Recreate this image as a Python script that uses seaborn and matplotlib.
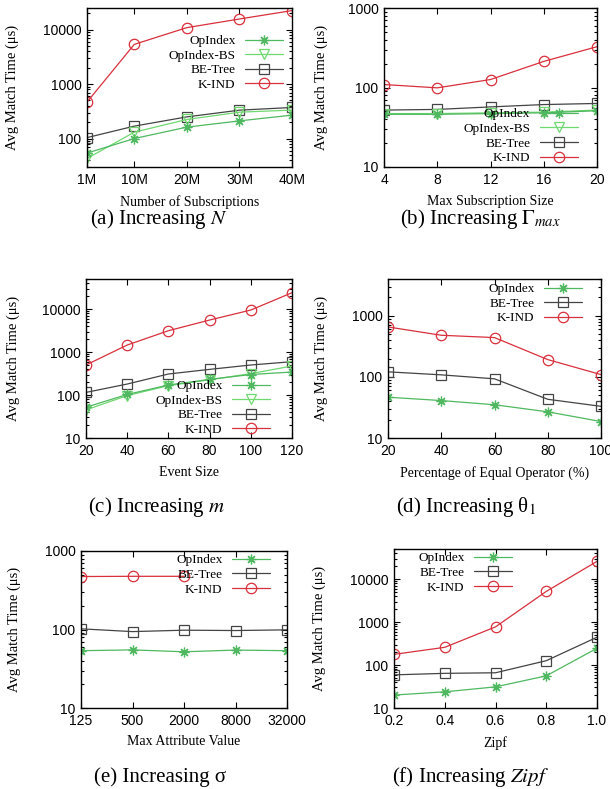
import matplotlib
matplotlib.use('Agg')
import matplotlib.pyplot as plt
import seaborn as sns
from matplotlib.ticker import LogLocator, NullFormatter, NullLocator

# ---- data ----
series_names = ['OpIndex', 'OpIndex-BS', 'BE-Tree', 'K-IND']

# (a) number of subscriptions
a_x = [1, 10, 20, 30, 40]
a_xlabels = ['1M', '10M', '20M', '30M', '40M']
a_opindex = [54, 100, 162, 211, 269]
a_opindex_bs = [43, 131, 224, 305, 333]
a_betree = [104, 169, 250, 332, 372]
a_kind = [467, 5370, 10900, 15700, 22400]

# (b) max subscription size
b_x = [4, 8, 12, 16, 20]
b_opindex = [46, 46, 47, 48, 51]
b_opindex_bs = [47, 47, 48, 49, 52]
b_betree = [52, 53, 57, 61, 63]
b_kind = [109, 99, 126, 213, 326]

# (c) event size
c_x = [20, 40, 60, 80, 100, 120]
c_opindex = [52, 103, 171, 231, 300, 343]
c_opindex_bs = [45, 97, 165, 226, 315, 472]
c_betree = [115, 180, 308, 395, 499, 596]
c_kind = [499, 1455, 3134, 5550, 9480, 24000]

# (d) percentage of equal operator
d_x = [20, 40, 60, 80, 100]
d_opindex = [46.5, 41, 35, 26.8, 18.6]
d_betree = [121, 108, 93, 43, 33]
d_kind = [657, 480, 440, 192, 109]

# (e) max attribute value (only first three K-IND runs finished)
e_labels = ['125', '500', '2000', '8000', '32000']
e_opindex = [53.7, 55, 52, 54.7, 53.7]
e_betree = [102, 94, 98, 97, 99]
e_kind = [473, 476, 476]

# (f) zipf
f_x = [0.2, 0.4, 0.6, 0.8, 1.0]
f_xlabels = ['0.2', '0.4', '0.6', '0.8', '1.0']
f_opindex = [20, 23.8, 31, 56, 245]
f_betree = [59, 64, 66, 126, 443]
f_kind = [177, 258, 771, 5150, 25800]

# ---- styling ----
sns.set_style('ticks')
plt.rcParams['font.family'] = ['Liberation Sans', 'DejaVu Sans']
plt.rcParams['mathtext.fontset'] = 'stix'
for k in ['text.color', 'axes.labelcolor', 'xtick.color', 'ytick.color']:
    plt.rcParams[k] = 'black'

SERIF = ['Liberation Serif', 'DejaVu Serif']
styles = {
    'OpIndex':    dict(color='#4fb860', marker=(8, 2, 0), ms=7),
    'OpIndex-BS': dict(color='#6fd86f', marker='v', ms=7),
    'BE-Tree':    dict(color='#444444', marker='s', ms=7),
    'K-IND':      dict(color='#d8303c', marker='o', ms=7.5),
}

W, H = 610, 789
fig = plt.figure(figsize=(W / 100, H / 100), dpi=100)


def make_ax(l, r, t, b):
    return fig.add_axes([l / W, 1 - b / H, (r - l) / W, (b - t) / H])


def draw(ax, x, y, name):
    st = styles[name]
    sns.lineplot(x=x, y=y, ax=ax, color=st['color'], marker=st['marker'],
                 markersize=st['ms'], markerfacecolor='none',
                 markeredgecolor=st['color'], markeredgewidth=0.9,
                 linewidth=0.9, label=name)


def finish(ax, ylim, yticks, xlabel, ylab_x, leg_anchor, names):
    ax.set_yscale('log')
    ax.set_ylim(*ylim)
    ax.set_yticks(yticks)
    ax.set_yticklabels([str(v) for v in yticks])
    ax.yaxis.set_minor_locator(LogLocator(base=10, subs=range(2, 10)))
    ax.yaxis.set_minor_formatter(NullFormatter())
    ax.xaxis.set_minor_locator(NullLocator())
    ax.tick_params(which='both', direction='in', top=True, right=True,
                   labelsize=10, width=0.8)
    ax.tick_params(which='major', length=4, pad=4)
    ax.tick_params(which='minor', length=2)
    for s in ax.spines.values():
        s.set_linewidth(1.0)
        s.set_color('black')
    ax.set_xlabel(xlabel, family=SERIF, fontsize=10)
    ax.set_ylabel('Avg Match Time (μs)', family=SERIF, fontsize=10.5)
    ax.xaxis.set_label_coords(0.5, -0.175)
    ax.yaxis.set_label_coords(ylab_x, 0.5)
    handles, labels = ax.get_legend_handles_labels()
    order = [labels.index(n) for n in names]
    ax.legend([handles[i] for i in order], [labels[i] for i in order],
              loc='upper right', bbox_to_anchor=leg_anchor, frameon=False,
              markerfirst=False, handlelength=2.9, handletextpad=0.7,
              labelspacing=0.18, borderpad=0, borderaxespad=0,
              prop={'family': SERIF, 'size': 9.5})


# (a)
ax = make_ax(87, 292, 8, 167)
draw(ax, a_x, a_kind, 'K-IND')
draw(ax, a_x, a_betree, 'BE-Tree')
draw(ax, a_x, a_opindex_bs, 'OpIndex-BS')
draw(ax, a_x, a_opindex, 'OpIndex')
ax.set_xlim(1, 40)
ax.set_xticks(a_x)
ax.set_xticklabels(a_xlabels)
finish(ax, (30, 25000), [100, 1000, 10000], 'Number of Subscriptions', -0.33,
       (0.956, 0.83), series_names)

# (b)
ax = make_ax(384, 597, 8, 167)
draw(ax, b_x, b_kind, 'K-IND')
draw(ax, b_x, b_betree, 'BE-Tree')
draw(ax, b_x, b_opindex_bs, 'OpIndex-BS')
draw(ax, b_x, b_opindex, 'OpIndex')
ax.set_xlim(4, 20)
ax.set_xticks(b_x)
finish(ax, (10, 1000), [10, 100, 1000], 'Max Subscription Size', -0.265,
       (0.91, 0.37), series_names)

# (c)
ax = make_ax(86, 292, 279, 438)
draw(ax, c_x, c_kind, 'K-IND')
draw(ax, c_x, c_betree, 'BE-Tree')
draw(ax, c_x, c_opindex_bs, 'OpIndex-BS')
draw(ax, c_x, c_opindex, 'OpIndex')
ax.set_xlim(20, 120)
ax.set_xticks(c_x)
finish(ax, (10, 50000), [10, 100, 1000, 10000], 'Event Size', -0.32,
       (0.893, 0.365), series_names)

# (d)
ax = make_ax(388, 601, 279, 438)
draw(ax, d_x, d_kind, 'K-IND')
draw(ax, d_x, d_betree, 'BE-Tree')
draw(ax, d_x, d_opindex, 'OpIndex')
ax.set_xlim(20, 100)
ax.set_xticks(d_x)
finish(ax, (10, 4000), [10, 100, 1000], 'Percentage of Equal Operator (%)',
       -0.28, (0.911, 0.975), ['OpIndex', 'BE-Tree', 'K-IND'])

# (e)
ax = make_ax(81, 287, 551, 708)
e_pos = list(range(len(e_labels)))
draw(ax, e_pos[:len(e_kind)], e_kind, 'K-IND')
draw(ax, e_pos, e_betree, 'BE-Tree')
draw(ax, e_pos, e_opindex, 'OpIndex')
ax.set_xlim(0, 4)
ax.set_xticks(e_pos)
ax.set_xticklabels(e_labels)
finish(ax, (10, 1000), [10, 100, 1000], 'Max Attribute Value', -0.29,
       (0.917, 0.98), ['OpIndex', 'BE-Tree', 'K-IND'])

# (f)
ax = make_ax(394, 597, 549, 708)
draw(ax, f_x, f_kind, 'K-IND')
draw(ax, f_x, f_betree, 'BE-Tree')
draw(ax, f_x, f_opindex, 'OpIndex')
ax.set_xlim(0.2, 1.0)
ax.set_xticks(f_x)
ax.set_xticklabels(f_xlabels)
finish(ax, (10, 50000), [10, 100, 1000, 10000], 'Zipf', -0.335,
       (0.581, 0.98), ['OpIndex', 'BE-Tree', 'K-IND'])

# captions
captions = [
    (159, 219, '(a) Increasing $N$'),
    (480, 219, r'(b) Increasing $\Gamma_{max}$'),
    (157, 507, '(c) Increasing $m$'),
    (466, 507, '(d) Increasing θ$_1$'),
    (160, 777, '(e) Increasing σ'),
    (471, 777, '(f) Increasing $Zipf$'),
]
for cx, cy, txt in captions:
    fig.text(cx / W, 1 - cy / H, txt, ha='center', va='center',
             family=SERIF, fontsize=15)

fig.savefig('out.png', dpi=100)
